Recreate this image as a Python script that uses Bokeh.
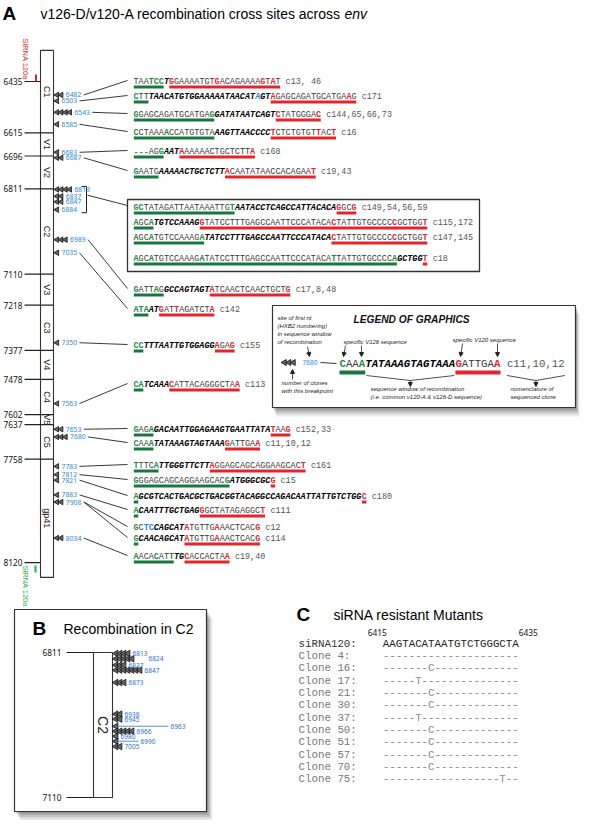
import numpy as np
from bokeh.plotting import figure
from bokeh.models import Range1d, Arrow, NormalHead
from bokeh.core.properties import value
from bokeh.embed import file_html
from bokeh.resources import INLINE

# ======================= DATA =======================
panel_a_title = "v126-D/v120-A recombination cross sites across "
panel_a_title_it = "env"
panel_b_title = "Recombination in C2"
panel_c_title = "siRNA resistant Mutants"

region_names = ["C1", "V1", "V2", "C2", "V3", "C3", "V4", "C4", "V5", "C5", "gp41"]
boundary_nt = [6435, 6615, 6696, 6811, 7110, 7218, 7377, 7478, 7602, 7637, 7758, 8120]
sirna_label = "SiRNA 120a"

row_bp = [6482, 6503, 6543, 6585, 6683, 6687, 6813, 6837, 6847, 6884, 6989, 7035,
          7350, 7563, 7653, 7680, 7783, 7812, 7821, 7883, 7908, 7908, 8034]
row_v126 = ["TAATCC", "CTT", "GGAGCAGATGCATGAG", "CCTAAAACCATGTGTA", "---AGG", "GAATG",
            "GCTATAGATTAATAAATTGT", "AGCA", "AGCATGTCCAAAGA",
            "AGCATGTCCAAAGATATCCTTTGAGCCAATTCCCATACATTATTGTGCCCCA",
            "GATTAG", "ATA", "CC", "CA", "GAGA", "CAAA", "TTTCA", "GGGAGCAGCAGGAAGCACG",
            "A", "A", "GCTC", "G", "AACACATT"]
row_common = ["T", "TAACATGTGGAAAAATAACATAGT", "GATATAATCAGT", "AAGTTAACCCC", "AAT",
              "AAAAACTGCTCTT", "AATACCTCAGCCATTACACA", "TGTCCAAAG",
              "TATCCTTTGAGCCAATTCCCATACA", "GCTGG", "GCCAGTAGT", "AT", "TTTAATTGTGGAGG",
              "TCAAA", "GACAATTGGAGAAGTGAATTATA", "TATAAAGTAGTAAA", "TTGGGTTCTT", "ATGGGCGC",
              "GCGTCACTGACGCTGACGGTACAGGCCAGACAATTATTGTCTGG", "CAATTTGCTGAG", "CAGCAT",
              "CAACAGCAT", "TG"]
row_v120 = ["GGAAAATGTGACAGAAAAGTAT", "AGAGCAGATGCATGAAG", "CTATGGGAC", "TCTCTGTGTTACT",
            "AAAAAACTGCTCTTA", "ACAATATAACCACAGAAT", "GGCG",
            "GTATCCTTTGAGCCAATTCCCATACACTATTGTGCCCCCGCTGGT", "CTATTGTGCCCCCGCTGGT", "T",
            "ATCAACTCAACTGCTG", "GATTAGATCTA", "AGAG", "CATTACAGGGCTAA", "TAAG", "GATTGAA",
            "AGGAGCAGCAGGAAGCACT", "G", "C", "GGCTATAGAGGCT", "ATGTTGAAACTCACG",
            "ATGTTGAAACTCACG", "CACCACTAA"]
row_clones = ["c13, 46", "c171", "c144,65,66,73", "c16", "c168", "c19,43", "c149,54,56,59",
              "c115,172", "c147,145", "c18", "c17,8,48", "c142", "c155", "c113", "c152,33",
              "c11,10,12", "c161", "c15", "c180", "c111", "c12", "c114", "c19,40"]
row_green = [[3, 4, 5], [0], [0, 15], [0, 6], [0, 1, 2, 5], [0], [0, 1, 19], [0, 3], [0, 3, 13],
             [0, 3, 13, 39, 51], [0, 4], [0, 1, 2], [0, 1], [0, 1], [0, 3], [0, 3], [0, 4],
             [0, 18], [0], [0], [0], [0], [0, 4, 7]]
row_red = [[7, 16, 25, 27], [27, 42], [28, 36], [27, 36, 39], [9, 23], [18, 35], [40, 43],
           [13, 39, 51, 57], [39, 51, 57], [57], [15, 30], [5, 8, 15], [16, 19], [7, 20],
           [27, 30], [18, 24], [15, 33], [27], [45], [13, 25], [10, 16, 24], [10, 16, 24],
           [10, 18]]
row_blue = [[], [24], [], [], [], [], [], [], [], [], [], [], [], [], [], [], [], [], [], [],
            [2, 3], [], []]
row_underlined = [True] * 20 + [False, True, True]
boxed_bp = [6813, 6837, 6847, 6884]
legend_bp = 7680

c2_bounds = [6811, 7110]
c2_bp = [6813, 6824, 6837, 6847, 6873, 6938, 6945, 6963, 6966, 6980, 6990, 7005]
c2_count = [4, 5, 3, 7, 3, 2, 2, 1, 5, 1, 1, 2]

sirna_pos = [6415, 6435]
sirna_name = "siRNA120:"
sirna_seq = "AAGTACATAATGTCTGGGCTA"
mut_clones = [4, 16, 17, 21, 30, 37, 50, 51, 57, 70, 75]
mut_index = [-1, 7, 5, 7, 7, 5, 7, 7, 7, 7, 18]
mut_base = ["", "C", "T", "C", "C", "T", "C", "C", "C", "C", "T"]

# ======================= STYLE / LAYOUT =======================
MONO, SANS, NUM = "Liberation Mono", "Liberation Sans", "Noto Sans"
GREEN_T, GREEN_B, RED, BLUE = "#1f8a46", "#17783f", "#e5242b", "#2a8ad4"
DARK, SEQ_C, CLONE_C = "#222222", "#3a3a3a", "#555555"

W, H = 584, 820
p = figure(width=W, height=H, x_range=Range1d(0, W), y_range=Range1d(H, 0),
           output_backend="svg", toolbar_location=None, min_border=0,
           x_axis_type=None, y_axis_type=None, outline_line_color=None,
           background_fill_color="white", border_fill_color="white")
p.grid.visible = False

texts = {}
def add_text(x, y, s, color=DARK, font=SANS, size="8px", style="normal", align="left",
             baseline="middle", angle=0.0):
    key = (font, size, style, align, baseline, angle)
    d = texts.setdefault(key, dict(x=[], y=[], text=[], color=[]))
    d["x"].append(x); d["y"].append(y); d["text"].append(s); d["color"].append(color)

segs = {}
def add_seg(x0, y0, x1, y1, color=DARK, width=1.0):
    d = segs.setdefault((color, width), dict(x0=[], y0=[], x1=[], y1=[]))
    d["x0"].append(x0); d["y0"].append(y0); d["x1"].append(x1); d["y1"].append(y1)

def shadow(l, r, t, b, dx, dy):
    for k, a in [(1.0, 0.07), (0.8, 0.08), (0.6, 0.10), (0.4, 0.12), (0.2, 0.14)]:
        p.quad(left=[l + dx * k], right=[r + dx * k], top=[t + dy * k], bottom=[b + dy * k],
               fill_color="black", fill_alpha=a, line_color=None)

def dodge(vals, gap):
    out = []
    for v in vals:
        if out and v - out[-1] < gap:
            v = out[-1] + gap
        out.append(v)
    return out

def draw_seq(x0, y, left, mid, right, greens, reds, blues, cw, size):
    full = left + mid + right
    st = []
    for i in range(len(full)):
        common = len(left) <= i < len(left) + len(mid)
        if i in greens:
            c = GREEN_T
        elif i in reds:
            c = RED
        elif i in blues:
            c = BLUE
        else:
            c = "#000000" if common else SEQ_C
        colored = c in (GREEN_T, RED, BLUE)
        style = "bold italic" if common else ("bold" if colored else "normal")
        st.append((c, style))
    i = 0
    while i < len(full):
        j = i
        while j < len(full) and st[j] == st[i]:
            j += 1
        add_text(x0 + i * cw, y, full[i:j], st[i][0], MONO, size, st[i][1])
        i = j
    return len(full)

# ---------------- Panel A ----------------
A_Y0, A_NT0, A_K = 81.0, 6435, 0.2855
def ya(nt):
    return A_Y0 + (nt - A_NT0) * A_K
BAR_L, BAR_R = 40, 53
BAR_NT = (6326, 8172)

add_text(2, 13, "A", "#000", SANS, "19px", "bold")
add_text(40, 13, panel_a_title, "#000", SANS, "14px")
add_text(344, 13, panel_a_title_it, "#000", SANS, "14px", "italic")

p.quad(left=[BAR_L], right=[BAR_R], top=[ya(BAR_NT[0])], bottom=[ya(BAR_NT[1])],
       fill_color="white", line_color="#333", line_width=1.1)
for k, nt in enumerate(boundary_nt):
    inner = 0 < k < len(boundary_nt) - 1
    add_seg(24, ya(nt), BAR_R if inner else BAR_L, ya(nt), "#222", 1.2)
    add_text(22, ya(nt), str(nt), "#111", NUM, "8.3px", align="right")
ext = [BAR_NT[0]] + boundary_nt[1:-1] + [BAR_NT[1]]
for k, name in enumerate(region_names):
    add_text((BAR_L + BAR_R) / 2, ya((ext[k] + ext[k + 1]) / 2), name, "#222", SANS, "9px",
             align="center", angle=-np.pi / 2)

# siRNA marks
add_text(25, 38, sirna_label, RED, SANS, "7.5px", align="left", angle=-np.pi / 2)
add_seg(35.5, ya(boundary_nt[0]) - 7, 35.5, ya(boundary_nt[0]), RED, 2)
add_text(25, ya(boundary_nt[-1]) + 3, sirna_label, "#22b34a", SANS, "7.5px", align="left",
         angle=-np.pi / 2)
add_seg(35, ya(boundary_nt[-1]) + 3, 35, ya(boundary_nt[-1]) + 10, "#22b34a", 2)

# markers (aggregated clone counts per breakpoint)
mk_bp, mk_cnt = [], []
for bp, cl in zip(row_bp, row_clones):
    n = len(cl[1:].split(","))
    if mk_bp and mk_bp[-1] == bp:
        mk_cnt[-1] += n
    else:
        mk_bp.append(bp); mk_cnt.append(n)
mk_y = dodge([ya(b) for b in mk_bp], 5.5)
TRI_X0, TRI_DX = 56.5, 4.3
tx, ty = [], []
mk_lab_end = {}
mk_yd = {}
for bp, c, y in zip(mk_bp, mk_cnt, mk_y):
    for i in range(c):
        tx.append(TRI_X0 + i * TRI_DX); ty.append(y)
    lx = TRI_X0 + (c - 1) * TRI_DX + 4.5
    add_text(lx, y, str(bp), BLUE, NUM, "6.8px")
    mk_lab_end[bp] = lx + 17
    mk_yd[bp] = y
p.scatter(tx, ty, marker="triangle", size=5.5, angle=np.pi / 2, fill_color="#666",
          line_color="#111", line_width=0.8)

# sequence rows
SX0, CW, SEQ_SIZE = 133, 5.07, "8.45px"
row_y = [81, 96, 114, 132, 151, 171, 207, 222, 237, 258, 289, 309, 345, 384, 429, 443,
         465, 480, 496, 510, 527, 538, 556]
CONN_X = 127
for i in range(len(row_bp)):
    y = row_y[i]
    n = draw_seq(SX0, y, row_v126[i], row_common[i], row_v120[i], row_green[i], row_red[i],
                 row_blue[i], CW, SEQ_SIZE)
    add_text(SX0 + (n + 1) * CW, y, row_clones[i], CLONE_C, MONO, SEQ_SIZE)
    if row_underlined[i]:
        a, b = len(row_v126[i]), len(row_v126[i]) + len(row_common[i])
        add_seg(SX0 + 0.3, y + 5.5, SX0 + a * CW - 0.3, y + 5.5, GREEN_B, 3)
        add_seg(SX0 + b * CW + 0.3, y + 5.5, SX0 + n * CW - 0.3, y + 5.5, RED, 3)
    if row_bp[i] not in boxed_bp:
        add_seg(mk_lab_end[row_bp[i]] + 1, mk_yd[row_bp[i]], CONN_X, y - 1, "#222", 0.9)

# box around the C2 group + bracket
bi = [row_bp.index(b) for b in boxed_bp]
box_t, box_b = row_y[bi[0]] - 8, row_y[bi[-1]] + 13
p.quad(left=[CONN_X], right=[479], top=[box_t], bottom=[box_b], fill_color=None,
       line_color="#333", line_width=1.3)
br_t, br_b = mk_yd[boxed_bp[0]] - 3, mk_yd[boxed_bp[-1]] + 3
add_seg(86, br_t, 86, br_b, "#222", 1)
add_seg(81, br_t, 86, br_t, "#222", 1)
add_seg(81, br_b, 86, br_b, "#222", 1)
add_seg(87, (br_t * 2 + br_b) / 3, CONN_X, box_t + 6, "#222", 0.9)

# ---------------- Legend ----------------
LG = (272, 575, 305, 407)
shadow(LG[0], LG[1], LG[2], LG[3], 4, 9)
p.quad(left=[LG[0]], right=[LG[1]], top=[LG[2]], bottom=[LG[3]], fill_color="white",
       line_color="#333", line_width=1.2)
add_text(353, 319, "LEGEND OF GRAPHICS", "#111", SANS, "10.2px", "bold italic")
for k, s in enumerate(["site of first nt", "(HXB2 numbering)", "in sequence window",
                       "of recombination"]):
    add_text(277, 317 + 8.3 * k, s, DARK, SANS, "6px", "italic")
add_text(343, 341, "specific V126 sequence", DARK, SANS, "6px", "italic")
add_text(452, 339, "specific V120 sequence", DARK, SANS, "6px", "italic")
add_text(281, 382, "number of clones", DARK, SANS, "6px", "italic")
add_text(281, 390, "with this breakpoint", DARK, SANS, "6px", "italic")
add_text(370, 388, "sequence window of recombination", DARK, SANS, "6px", "italic")
add_text(370, 396, "(i.e. common v120-A & v126-D sequence)", DARK, SANS, "6px", "italic")
add_text(510, 388, "nomenclature of", DARK, SANS, "6px", "italic")
add_text(510, 396, "sequenced clone", DARK, SANS, "6px", "italic")

li = row_bp.index(legend_bp)
lcount = len(row_clones[li][1:].split(","))
p.scatter([284 + 4.5 * k for k in range(lcount)], [362] * lcount, marker="triangle", size=6,
          angle=np.pi / 2, fill_color="#666", line_color="#111", line_width=0.8)
add_text(302, 362, str(legend_bp), BLUE, NUM, "6.5px")
add_seg(320, 362, 336, 363, "#222", 0.9)
LX0, LCW, LSIZE = 339, 6.44, "10.7px"
ln = draw_seq(LX0, 363, row_v126[li], row_common[li], row_v120[li], row_green[li],
              row_red[li], row_blue[li], LCW, LSIZE)
add_text(LX0 + (ln + 1) * LCW, 363, row_clones[li], CLONE_C, MONO, LSIZE)
la, lb = len(row_v126[li]), len(row_v126[li]) + len(row_common[li])
add_seg(LX0, 372, LX0 + la * LCW, 372, GREEN_B, 4)
add_seg(LX0 + lb * LCW, 372, LX0 + ln * LCW, 372, RED, 4)
# braces
bx1, bx2 = LX0 + la * LCW + 1, LX0 + lb * LCW - 1
bm = (bx1 + bx2) / 2
add_seg(bx1, 375, bm, 380, "#222", 0.8); add_seg(bm, 380, bx2, 375, "#222", 0.8)
cx1, cx2 = LX0 + (ln + 1) * LCW, LX0 + (ln + 1 + len(row_clones[li])) * LCW
cm = (cx1 + cx2) / 2
add_seg(cx1, 375, cm, 380, "#222", 0.8); add_seg(cm, 380, cx2, 375, "#222", 0.8)
arrows = [(307, 346, 309, 356), (292, 379, 292, 369),
          (345, 345, 343, 356), (361, 345, 361, 356),
          (462, 343, 460, 356), (497, 343, 497, 356),
          (bm, 380, bm, 386), (cm, 380, cm, 386)]
for x0, y0, x1, y1 in arrows:
    p.add_layout(Arrow(end=NormalHead(size=4, fill_color="#222", line_color="#222"),
                       x_start=x0, y_start=y0, x_end=x1, y_end=y1, line_width=0.8,
                       line_color="#222"))

# ---------------- Panel B ----------------
B_Y0, B_NT0, B_K = 652.0, 6811, 0.485
def yb(nt):
    return B_Y0 + (nt - B_NT0) * B_K
PB = (14, 206, 609, 811)
shadow(PB[0], PB[1], PB[2], PB[3], 6, 9)
p.quad(left=[PB[0]], right=[PB[1]], top=[PB[2]], bottom=[PB[3]], fill_color="white",
       line_color="#333", line_width=1.2)
add_text(32, 628, "B", "#000", SANS, "19px", "bold")
add_text(63, 628, panel_b_title, "#000", SANS, "14px")
BB_L, BB_R = 93, 112
p.quad(left=[BB_L], right=[BB_R], top=[yb(c2_bounds[0])], bottom=[yb(c2_bounds[1])],
       fill_color="white", line_color="#333", line_width=1.1)
for nt in c2_bounds:
    add_seg(66, yb(nt), BB_L, yb(nt), "#222", 1.1)
    add_text(61, yb(nt), str(nt), "#111", NUM, "8.3px", align="right")
add_text((BB_L + BB_R) / 2, yb(sum(c2_bounds) / 2), "C2", "#222", SANS, "14px",
         align="center", angle=-np.pi / 2)
B_LEADER = {6963: 168, 6990: 138}
B_LABEL_DX = {6824: 12}
b_y = dodge([yb(b) for b in c2_bp], 5.0)
BT_X0, BT_DX = 115.5, 4.0
bx, by = [], []
for bp, c, y in zip(c2_bp, c2_count, b_y):
    for i in range(c):
        bx.append(BT_X0 + i * BT_DX); by.append(y)
    lx = BT_X0 + (c - 1) * BT_DX + 4.5 + B_LABEL_DX.get(bp, 0)
    if bp in B_LEADER:
        add_seg(BB_R + 1 if c == 1 else lx, y, B_LEADER[bp], y, "#2b6fcf", 0.8)
        lx = B_LEADER[bp] + 2
    add_text(lx, y, str(bp), "#2b6fcf", NUM, "6.5px")
p.scatter(bx, by, marker="triangle", size=6.5, angle=np.pi / 2, fill_color="#666",
          line_color="#111", line_width=0.8)

# ---------------- Panel C ----------------
add_text(296, 614, "C", "#000", SANS, "19px", "bold")
add_text(333, 614, panel_c_title, "#000", SANS, "14px")
C_LX, C_CW, C_SIZE = 298, 6.48, "10.8px"
C_SX = C_LX + 13 * C_CW
C_Y0, C_DY = 643, 12.35
add_text(C_SX + 4, 632, str(sirna_pos[0]), "#111", NUM, "8.3px", align="right")
add_text(C_SX + len(sirna_seq) * C_CW, 632, str(sirna_pos[1]), "#111", NUM, "8.3px")
add_text(C_LX, C_Y0, sirna_name, "#333", MONO, C_SIZE)
add_text(C_SX, C_Y0, sirna_seq, "#222", MONO, C_SIZE)
for k, (cl, mi, mb) in enumerate(zip(mut_clones, mut_index, mut_base)):
    y = C_Y0 + (k + 1) * C_DY
    add_text(C_LX, y, "Clone %d:" % cl, "#777", MONO, C_SIZE)
    s = ["-"] * len(sirna_seq)
    if mi >= 0:
        s[mi] = mb
    add_text(C_SX, y, "".join(s), "#8a8a8a", MONO, C_SIZE)

# ---------------- render collected primitives ----------------
for (color, width), d in segs.items():
    p.segment(x0=d["x0"], y0=d["y0"], x1=d["x1"], y1=d["y1"], line_color=color,
              line_width=width)
for (font, size, style, align, baseline, angle), d in texts.items():
    p.text(x=d["x"], y=d["y"], text=d["text"], text_color=d["color"],
           text_font=value(font), text_font_size=value(size), text_font_style=style,
           text_align=align, text_baseline=baseline, angle=angle)

open("out.html", "w").write(file_html(p, INLINE))
